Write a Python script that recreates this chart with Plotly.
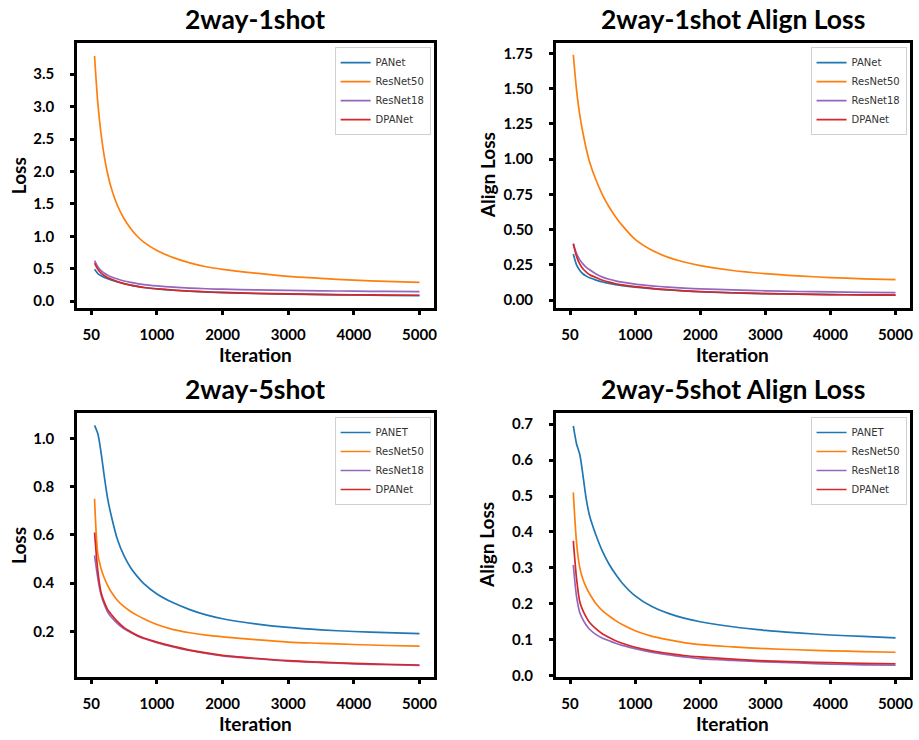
import plotly.graph_objects as go

# ---------------- data ----------------
iterations = [50, 100, 150, 200, 250, 300, 400, 500, 600, 700, 800, 1000,
              1250, 1500, 1750, 2000, 2500, 3000, 3500, 4000, 4500, 5000]

x_tick_vals = [0, 1000, 2000, 3000, 4000, 5000]
x_tick_text = ["50", "1000", "2000", "3000", "4000", "5000"]

# 2way-1shot loss
s1_panet    = [0.49, 0.425, 0.39, 0.365, 0.345, 0.327, 0.295, 0.268, 0.245, 0.226, 0.21, 0.188,
               0.167, 0.152, 0.14, 0.13, 0.117, 0.107, 0.10, 0.094, 0.089, 0.085]
s1_resnet50 = [3.78, 3.05, 2.57, 2.22, 1.96, 1.76, 1.47, 1.27, 1.12, 1.00, 0.91, 0.78,
               0.67, 0.59, 0.53, 0.49, 0.43, 0.38, 0.35, 0.322, 0.305, 0.29]
s1_resnet18 = [0.625, 0.53, 0.47, 0.43, 0.40, 0.375, 0.34, 0.31, 0.288, 0.27, 0.255, 0.235,
               0.215, 0.20, 0.19, 0.183, 0.172, 0.164, 0.158, 0.153, 0.149, 0.146]
s1_dpanet   = [0.585, 0.49, 0.43, 0.39, 0.36, 0.34, 0.30, 0.27, 0.246, 0.226, 0.21, 0.19,
               0.17, 0.155, 0.142, 0.133, 0.12, 0.11, 0.103, 0.097, 0.093, 0.09]

# 2way-1shot align loss
a1_panet    = [0.327, 0.25, 0.21, 0.185, 0.17, 0.158, 0.142, 0.128, 0.118, 0.11, 0.103, 0.092,
               0.081, 0.072, 0.065, 0.059, 0.051, 0.046, 0.042, 0.039, 0.037, 0.035]
a1_resnet50 = [1.74, 1.49, 1.31, 1.18, 1.07, 0.98, 0.85, 0.745, 0.66, 0.59, 0.53, 0.43,
               0.355, 0.305, 0.27, 0.245, 0.21, 0.188, 0.172, 0.16, 0.151, 0.145]
a1_resnet18 = [0.40, 0.33, 0.285, 0.255, 0.232, 0.215, 0.185, 0.163, 0.148, 0.136, 0.127, 0.113,
               0.101, 0.092, 0.085, 0.08, 0.072, 0.066, 0.061, 0.058, 0.055, 0.053]
a1_dpanet   = [0.40, 0.31, 0.255, 0.22, 0.198, 0.18, 0.16, 0.141, 0.127, 0.116, 0.108, 0.095,
               0.083, 0.074, 0.066, 0.06, 0.052, 0.046, 0.042, 0.039, 0.037, 0.035]

# 2way-5shot loss
s5_panet    = [1.055, 1.02, 0.94, 0.84, 0.75, 0.685, 0.58, 0.513, 0.464, 0.428, 0.398, 0.355,
               0.318, 0.29, 0.268, 0.252, 0.231, 0.216, 0.206, 0.199, 0.194, 0.19]
s5_resnet50 = [0.75, 0.52, 0.46, 0.42, 0.39, 0.365, 0.328, 0.302, 0.282, 0.266, 0.252, 0.228,
               0.207, 0.194, 0.184, 0.177, 0.165, 0.155, 0.15, 0.145, 0.141, 0.138]
s5_resnet18 = [0.515, 0.42, 0.35, 0.31, 0.28, 0.26, 0.232, 0.21, 0.195, 0.18, 0.17, 0.153,
               0.135, 0.12, 0.108, 0.098, 0.086, 0.076, 0.07, 0.065, 0.061, 0.058]
s5_dpanet   = [0.61, 0.45, 0.36, 0.32, 0.29, 0.272, 0.24, 0.215, 0.198, 0.183, 0.172, 0.155,
               0.137, 0.122, 0.11, 0.10, 0.088, 0.078, 0.072, 0.067, 0.063, 0.06]

# 2way-5shot align loss
a5_panet    = [0.695, 0.645, 0.615, 0.555, 0.49, 0.445, 0.39, 0.345, 0.31, 0.282, 0.258, 0.222,
               0.193, 0.174, 0.16, 0.15, 0.136, 0.126, 0.119, 0.113, 0.109, 0.105]
a5_resnet50 = [0.51, 0.37, 0.30, 0.267, 0.245, 0.228, 0.20, 0.18, 0.166, 0.153, 0.142, 0.125,
               0.11, 0.10, 0.092, 0.086, 0.08, 0.075, 0.072, 0.069, 0.067, 0.065]
a5_resnet18 = [0.308, 0.22, 0.175, 0.155, 0.14, 0.129, 0.114, 0.104, 0.097, 0.09, 0.084, 0.075,
               0.065, 0.058, 0.052, 0.047, 0.042, 0.038, 0.035, 0.032, 0.03, 0.029]
a5_dpanet   = [0.375, 0.27, 0.205, 0.18, 0.162, 0.148, 0.13, 0.116, 0.106, 0.097, 0.09, 0.079,
               0.069, 0.062, 0.056, 0.052, 0.046, 0.041, 0.038, 0.036, 0.034, 0.033]

series_colors = ["#1f77b4", "#ff7f0e", "#9467bd", "#d62728"]

panels = [
    dict(title="2way-1shot", ytitle="Loss", names=["PANet", "ResNet50", "ResNet18", "DPANet"],
         ys=[s1_panet, s1_resnet50, s1_resnet18, s1_dpanet],
         yrange=[-0.10, 3.98], ytick0=0, ydtick=0.5, yfmt=".1f"),
    dict(title="2way-1shot Align Loss", ytitle="Align Loss", names=["PANet", "ResNet50", "ResNet18", "DPANet"],
         ys=[a1_panet, a1_resnet50, a1_resnet18, a1_dpanet],
         yrange=[-0.053, 1.823], ytick0=0, ydtick=0.25, yfmt=".2f"),
    dict(title="2way-5shot", ytitle="Loss", names=["PANET", "ResNet50", "ResNet18", "DPANet"],
         ys=[s5_panet, s5_resnet50, s5_resnet18, s5_dpanet],
         yrange=[0.010, 1.106], ytick0=0.2, ydtick=0.2, yfmt=".1f"),
    dict(title="2way-5shot Align Loss", ytitle="Align Loss", names=["PANET", "ResNet50", "ResNet18", "DPANet"],
         ys=[a5_panet, a5_resnet50, a5_resnet18, a5_dpanet],
         yrange=[-0.004, 0.731], ytick0=0, ydtick=0.1, yfmt=".1f"),
]

W, H = 919, 740
# plot frames in page pixels: (left, right, top, bottom)
frames = [(77.5, 435.5, 43.5, 310.5), (558.5, 913.5, 43.5, 310.5),
          (77.5, 435.5, 417, 683.5), (558.5, 913.5, 417, 683.5)]
ytitle_x = [18, 489, 18, 488]


def px(v):
    return v / W


def py(v):
    return 1 - v / H


fig = go.Figure()
layout = dict(width=W, height=H, margin=dict(l=0, r=0, t=0, b=0),
              paper_bgcolor="white", plot_bgcolor="white", showlegend=True,
              annotations=[])

tickfont = dict(family="Lato", size=15, color="black", weight="bold")

for i, p in enumerate(panels):
    k = "" if i == 0 else str(i + 1)
    l, r, t, b = frames[i]
    leg = "legend" if i == 0 else "legend" + str(i + 1)
    for name, y, c in zip(p["names"], p["ys"], series_colors):
        fig.add_trace(go.Scatter(
            x=iterations, y=y, name=name, mode="lines",
            line=dict(color=c, width=1.7, shape="spline", smoothing=0.8),
            xaxis="x" + k, yaxis="y" + k, legend=leg))
    common = dict(showline=True, mirror=True, linecolor="black", linewidth=3,
                  ticks="outside", ticklen=4, tickwidth=3, tickcolor="black",
                  showgrid=False, zeroline=False, tickfont=tickfont)
    layout["xaxis" + k] = dict(domain=[px(l), px(r)], anchor="y" + k,
                               range=[-215, 5215], tickmode="array",
                               tickvals=x_tick_vals, ticktext=x_tick_text,
                               ticklabelstandoff=7, **common)
    layout["yaxis" + k] = dict(domain=[py(b), py(t)], anchor="x" + k,
                               range=p["yrange"], tick0=p["ytick0"], dtick=p["ydtick"],
                               tickformat=p["yfmt"], ticklabelstandoff=13, **common)
    layout[leg] = dict(x=px(r - 3), y=py(t + 4), xanchor="right", yanchor="top",
                       bgcolor="white", bordercolor="#d0d0d0", borderwidth=1,
                       font=dict(family="DejaVu Sans", size=10, color="#333"),
                       itemwidth=30, tracegroupgap=0)
    cx = (l + r) / 2
    layout["annotations"].append(dict(
        text="<b>" + p["title"] + "</b>", x=px(cx), y=py(t - 24.5),
        xref="paper", yref="paper", showarrow=False, xanchor="center", yanchor="middle",
        font=dict(family="Lato", size=26.5, color="black")))
    layout["annotations"].append(dict(
        text="<b>Iteration</b>", x=px(cx), y=py(b + 47),
        xref="paper", yref="paper", showarrow=False, xanchor="center", yanchor="middle",
        font=dict(family="Lato", size=19, color="black")))
    layout["annotations"].append(dict(
        text="<b>" + p["ytitle"] + "</b>", x=px(ytitle_x[i]), y=py((t + b) / 2),
        xref="paper", yref="paper", showarrow=False, xanchor="center", yanchor="middle",
        textangle=-90, font=dict(family="Lato", size=19, color="black")))

fig.update_layout(**layout)
# remove the default 8px page margin so the figure fills the window exactly
fig.write_html("out.html",
               config={"displayModeBar": False},
               post_script="document.body.style.margin='0';document.body.style.overflow='hidden';")
